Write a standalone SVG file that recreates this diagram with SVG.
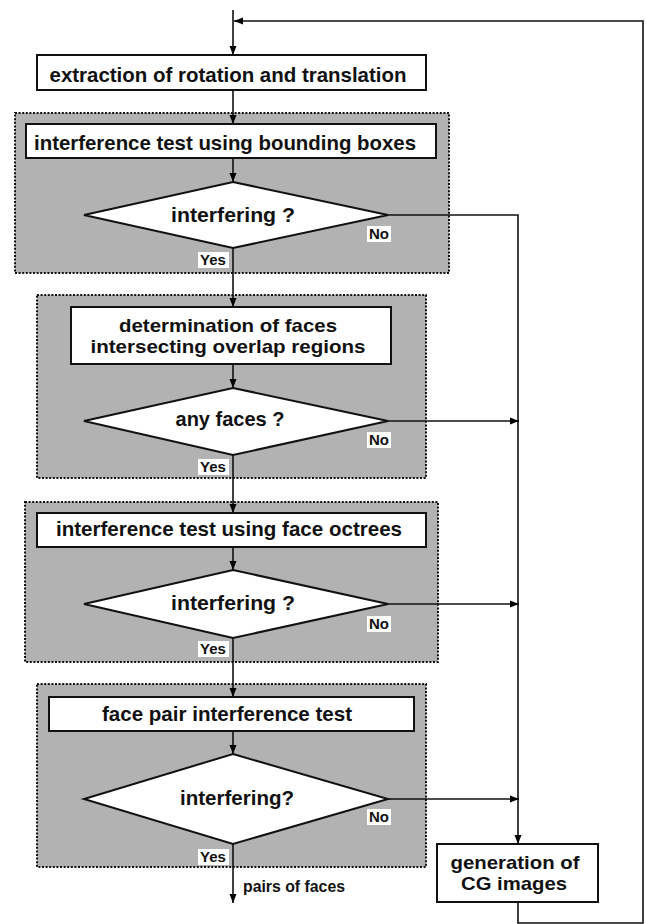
<svg xmlns="http://www.w3.org/2000/svg" width="646" height="924" viewBox="0 0 646 924">
<defs>
<marker id="ah" markerWidth="10" markerHeight="8" refX="9" refY="4" orient="auto" markerUnits="userSpaceOnUse">
<path d="M0,0.5 L9,4 L0,7.5 Z" fill="#000"/>
</marker>
<style>
.grp{fill:#b2b2b2;stroke:#111;stroke-width:2;stroke-dasharray:2 1.6}
.box{fill:#fff;stroke:#111;stroke-width:2}
.dia{fill:#fff;stroke:#111;stroke-width:2}
.t{font-family:"Liberation Sans",Arial,Helvetica,sans-serif;font-weight:bold;font-size:21px;fill:#111;text-anchor:middle}
.t2{font-size:19px}
.s{font-family:"Liberation Sans",Arial,Helvetica,sans-serif;font-weight:bold;font-size:15px;fill:#111}
.lbl{fill:#fff}
.c{fill:none;stroke:#111;stroke-width:1.6}
.a{marker-end:url(#ah)}
</style>
</defs>
<rect width="646" height="924" fill="#fff"/>

<g id="group1"><rect class="grp" x="15" y="113" width="434" height="160"/></g>
<g id="group2"><rect class="grp" x="37" y="295" width="389" height="183"/></g>
<g id="group3"><rect class="grp" x="25" y="502" width="413" height="160"/></g>
<g id="group4"><rect class="grp" x="37" y="684" width="389" height="183"/></g>

<g id="connectors">
<line class="c a" x1="233" y1="10" x2="233" y2="55"/>
<line class="c a" x1="233" y1="90" x2="233" y2="124"/>
<line class="c a" x1="233" y1="158" x2="233" y2="182"/>
<line class="c a" x1="233" y1="248" x2="233" y2="307"/>
<line class="c a" x1="233" y1="364" x2="233" y2="388"/>
<line class="c a" x1="233" y1="455" x2="233" y2="513"/>
<line class="c a" x1="233" y1="547" x2="233" y2="570"/>
<line class="c a" x1="233" y1="638" x2="233" y2="697"/>
<line class="c a" x1="233" y1="731" x2="233" y2="754"/>
<line class="c a" x1="233" y1="844" x2="233" y2="903"/>
<polyline class="c a" points="388,215 518,215 518,844"/>
<line class="c a" x1="388" y1="421" x2="519" y2="421"/>
<line class="c a" x1="388" y1="604" x2="519" y2="604"/>
<line class="c a" x1="388" y1="799" x2="519" y2="799"/>
<polyline class="c a" points="518,902 518,923 643,923 643,21 234,21"/>
</g>

<g id="extraction">
<rect class="box" x="37" y="55" width="389" height="35"/>
<text class="t" x="228" y="82" textLength="357" lengthAdjust="spacingAndGlyphs">extraction of rotation and translation</text>
</g>

<g id="bbox-test">
<rect class="box" x="26" y="124" width="410" height="34"/>
<text class="t" x="225" y="150" textLength="382" lengthAdjust="spacingAndGlyphs">interference test using bounding boxes</text>
</g>

<g id="decision1">
<polygon class="dia" points="233,182 388,215 233,248 84,215"/>
<text class="t" x="233" y="222" textLength="124" lengthAdjust="spacingAndGlyphs">interfering ?</text>
<rect class="lbl" x="367" y="226" width="24" height="16"/>
<text class="s" x="369" y="239">No</text>
<rect class="lbl" x="198" y="252" width="31" height="16"/>
<text class="s" x="200" y="265">Yes</text>
</g>

<g id="faces-overlap">
<rect class="box" x="71" y="307" width="320" height="57"/>
<text class="t t2" x="228" y="332" textLength="218" lengthAdjust="spacingAndGlyphs">determination of faces</text>
<text class="t t2" x="228" y="353" textLength="275" lengthAdjust="spacingAndGlyphs">intersecting overlap regions</text>
</g>

<g id="decision2">
<polygon class="dia" points="233,388 388,421 233,455 84,421"/>
<text class="t" x="230" y="426" textLength="109" lengthAdjust="spacingAndGlyphs">any faces ?</text>
<rect class="lbl" x="367" y="432" width="24" height="16"/>
<text class="s" x="369" y="445">No</text>
<rect class="lbl" x="198" y="459" width="31" height="16"/>
<text class="s" x="200" y="472">Yes</text>
</g>

<g id="octree-test">
<rect class="box" x="37" y="513" width="389" height="34"/>
<text class="t" x="229" y="536" textLength="346" lengthAdjust="spacingAndGlyphs">interference test using face octrees</text>
</g>

<g id="decision3">
<polygon class="dia" points="233,570 388,604 233,638 84,604"/>
<text class="t" x="233" y="610" textLength="124" lengthAdjust="spacingAndGlyphs">interfering ?</text>
<rect class="lbl" x="367" y="616" width="24" height="16"/>
<text class="s" x="369" y="629">No</text>
<rect class="lbl" x="198" y="641" width="31" height="16"/>
<text class="s" x="200" y="654">Yes</text>
</g>

<g id="facepair-test">
<rect class="box" x="49" y="697" width="365" height="34"/>
<text class="t" x="227" y="721" textLength="250" lengthAdjust="spacingAndGlyphs">face pair interference test</text>
</g>

<g id="decision4">
<polygon class="dia" points="233,754 388,799 233,844 84,799"/>
<text class="t" x="237" y="805" textLength="114" lengthAdjust="spacingAndGlyphs">interfering?</text>
<rect class="lbl" x="367" y="809" width="24" height="16"/>
<text class="s" x="369" y="822">No</text>
<rect class="lbl" x="198" y="849" width="31" height="16"/>
<text class="s" x="200" y="862">Yes</text>
</g>

<g id="output-label">
<text class="s" x="243" y="892" style="font-size:16px" textLength="102" lengthAdjust="spacingAndGlyphs">pairs of faces</text>
</g>

<g id="cg-images">
<rect class="box" x="437" y="844" width="161" height="58"/>
<text class="t t2" x="515" y="869" textLength="129" lengthAdjust="spacingAndGlyphs">generation of</text>
<text class="t t2" x="514" y="890" textLength="106" lengthAdjust="spacingAndGlyphs">CG images</text>
</g>
</svg>
